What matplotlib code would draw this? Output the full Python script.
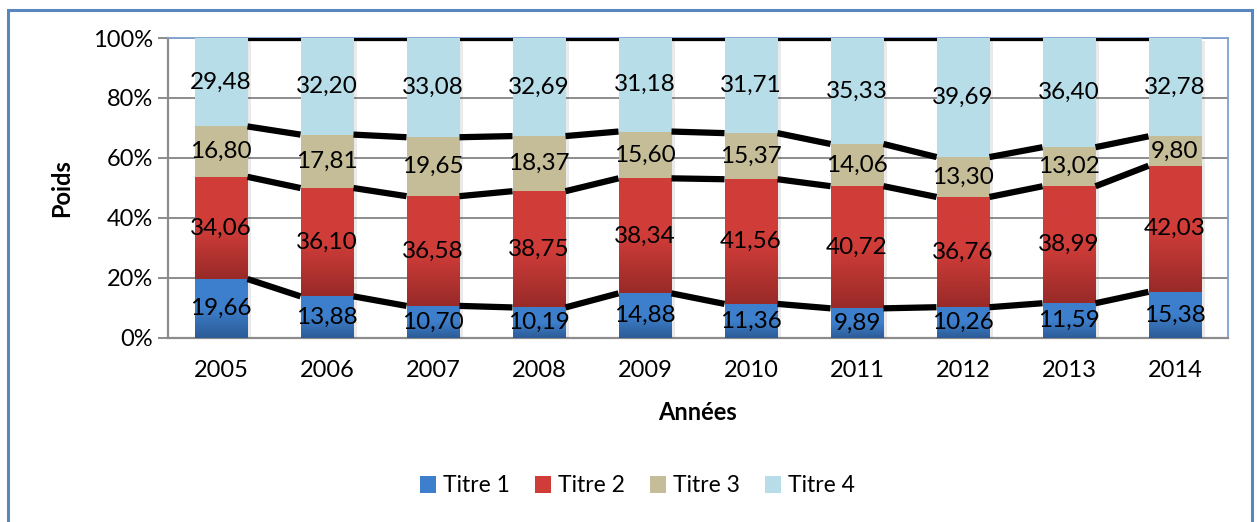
import numpy as np
import matplotlib
matplotlib.use("Agg")
import matplotlib.pyplot as plt
from matplotlib.patches import Rectangle
from matplotlib.colors import LinearSegmentedColormap
import matplotlib.patheffects as pe

plt.rcParams['font.family'] = ['Lato', 'DejaVu Sans']

years = ["2005", "2006", "2007", "2008", "2009", "2010", "2011", "2012", "2013", "2014"]
titre1 = [19.66, 13.88, 10.70, 10.19, 14.88, 11.36, 9.89, 10.26, 11.59, 15.38]
titre2 = [34.06, 36.10, 36.58, 38.75, 38.34, 41.56, 40.72, 36.76, 38.99, 42.03]
titre3 = [16.80, 17.81, 19.65, 18.37, 15.60, 15.37, 14.06, 13.30, 13.02, 9.80]
titre4 = [29.48, 32.20, 33.08, 32.69, 31.18, 31.71, 35.33, 39.69, 36.40, 32.78]
series_names = ["Titre 1", "Titre 2", "Titre 3", "Titre 4"]

series = [titre1, titre2, titre3, titre4]
# gradient (top, bottom) colours per series; flat ones repeat the colour
fills = [("#3D7FCC", "#2C5B96"),
         ("#D03D39", "#982A28"),
         ("#C4BD97", "#C4BD97"),
         ("#B7DDE8", "#B7DDE8")]

W, H = 1257, 522
fig = plt.figure(figsize=(W / 100, H / 100), dpi=100)

# outer chart border
fig.patches.append(Rectangle((8 / W, -0.1), (1252 - 8) / W, (H - 10) / H + 0.1,
                             transform=fig.transFigure, fill=False,
                             edgecolor="#5A86BF", linewidth=2.2, zorder=0))

ax = fig.add_axes([168 / W, 1 - 338 / H, (1228 - 168) / W, (338 - 38) / H])
n = len(years)
x = np.arange(n)
bw = 0.5

ax.set_xlim(-0.5, n - 0.5)
ax.set_ylim(0, 100)

data = np.array(series)
totals = data.sum(axis=0)
pct = data / totals * 100
cum = np.vstack([np.zeros(n), np.cumsum(pct, axis=0)])

for s in range(4):
    top_c, bot_c = fills[s]
    cmap = LinearSegmentedColormap.from_list(f"g{s}", [bot_c, top_c, top_c])
    for i in range(n):
        y0, y1 = cum[s, i], cum[s + 1, i]
        rect = Rectangle((x[i] - bw / 2, y0), bw, y1 - y0, facecolor=top_c,
                         edgecolor="none", zorder=3)
        ax.add_patch(rect)
        if top_c != bot_c:
            grad = np.linspace(0, 1, 256).reshape(-1, 1)
            im = ax.imshow(grad, cmap=cmap, origin="lower", aspect="auto",
                           extent=(x[i] - bw / 2, x[i] + bw / 2, y0, y1),
                           zorder=3.5, interpolation="bilinear")
            im.set_clip_path(rect)
        ax.text(x[i], (y0 + y1) / 2, f"{series[s][i]:.2f}".replace(".", ","),
                ha="center", va="center", fontsize=17.5, color="black", zorder=6)

# soft bar shadows
for i in range(n):
    sh = Rectangle((x[i] - bw / 2, 0), bw, 100, facecolor="white", edgecolor="none",
                   zorder=2.9,
                   path_effects=[pe.SimplePatchShadow(offset=(2.5, -2.5), alpha=0.12,
                                                      shadow_rgbFace="#555555")])
    ax.add_patch(sh)

# series lines joining the stacks
for k in range(1, 5):
    for i in range(n - 1):
        ax.plot([x[i] + bw / 2, x[i + 1] - bw / 2], [cum[k, i], cum[k, i + 1]],
                color="black", linewidth=4.5, solid_capstyle="butt", zorder=4)

ax.set_yticks(np.arange(0, 101, 20))
ax.set_yticklabels([f"{v}%" for v in range(0, 101, 20)], fontsize=17)
ax.yaxis.grid(True, color="#8C8C8C", linewidth=1.4, zorder=1)
ax.set_axisbelow(True)
ax.tick_params(axis="y", length=7, width=1.4, color="#8C8C8C", pad=4)
ax.set_xticks(x)
ax.set_xticklabels(years, fontsize=17)
ax.tick_params(axis="x", length=0, pad=16)

for side in ["left", "bottom"]:
    ax.spines[side].set_color("#8C8C8C")
    ax.spines[side].set_linewidth(1.6)
for side in ["top", "right"]:
    ax.spines[side].set_color("#7EA0CF")
    ax.spines[side].set_linewidth(1.3)

fig.text(698 / W, 1 - 413 / H, "Années", fontsize=17, fontweight="bold",
         ha="center", va="center")
fig.text(62 / W, 1 - 188 / H, "Poids", fontsize=17, fontweight="bold",
         ha="center", va="center", rotation=90)

handles = []
for s in range(4):
    handles.append(Rectangle((0, 0), 1, 1, facecolor=fills[s][0], edgecolor="none"))
fig.legend(handles, series_names, loc="center", bbox_to_anchor=(637 / W, 1 - 486 / H),
           ncol=4, frameon=False, fontsize=16.5, handlelength=0.7, handleheight=0.7,
           handletextpad=0.3, columnspacing=1.1)

fig.savefig("out.png", dpi=100)
